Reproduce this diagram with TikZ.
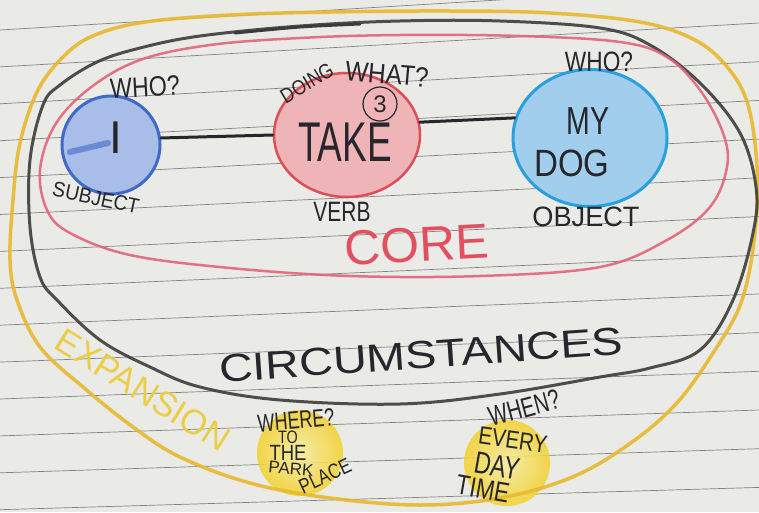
\documentclass[tikz,border=0pt]{standalone}
\usepackage{fontspec}
\setmainfont{Liberation Sans}
\usetikzlibrary{shapes.geometric}
\definecolor{paper}{RGB}{234,234,231}
\definecolor{rule}{RGB}{130,130,130}
\definecolor{ink}{RGB}{38,38,44}
\definecolor{yline}{RGB}{232,185,45}
\definecolor{ytext}{RGB}{236,205,70}
\definecolor{yfill}{RGB}{242,210,55}
\definecolor{yfillin}{RGB}{248,236,160}
\definecolor{kline}{RGB}{60,60,60}
\definecolor{rline}{RGB}{226,100,120}
\definecolor{rtext}{RGB}{225,80,95}
\definecolor{rfill}{RGB}{238,180,184}
\definecolor{redge}{RGB}{222,78,88}
\definecolor{bedge}{RGB}{65,105,200}
\definecolor{bfill}{RGB}{168,190,232}
\definecolor{cedge}{RGB}{40,160,222}
\definecolor{cfill}{RGB}{162,206,238}
\newcommand\hwt[3]{\fontsize{#1}{#1}\selectfont\scalebox{#2}[1]{#3}}
\begin{document}
\begin{tikzpicture}[x=1pt,y=-1pt,
  hw/.style={inner sep=0pt, text=ink, anchor=center},
  ruleline/.style={draw=rule, line width=0.7pt},
  pencil/.style={line width=3pt, line cap=round, line join=round, opacity=0.9},
  conn/.style={draw=ink, line width=3pt, line cap=round},
  blob/.style={circle, inner sep=0pt, minimum size=86pt, shading=radial, inner color=yfillin, outer color=yfill, opacity=0.9}]
\useasboundingbox (0,0) rectangle (759,512);
\clip (0,0) rectangle (759,512);
\fill[paper] (0,0) rectangle (759,512);
% ruled paper
\foreach \l/\r in {30/-15.7, 66.9/23, 103.8/61.7, 140.7/100.4, 177.6/139.1, 214.5/177.8, 251.4/216.5, 288.3/255.2, 325.2/293.9, 362.1/332.6, 399/371.3, 435.9/410, 472.8/448.7, 509.7/487.4, 546.6/526.1}
  \draw[ruleline] (0,\l) -- (759,\r);
% yellow blobs
\node[blob] (where) at (300,453) {};
\node[blob] (when) at (507,463) {};
% expansion (yellow)
\draw[pencil, draw=yline, line width=3.5pt] plot[smooth cycle, tension=0.6] coordinates {
 (20,143) (13,200) (10,260) (17,300) (40,347) (83,387) (133,427) (180,457) (250,483) (330,498) (420,505) (500,498) (570,478) (625,447) (675,405) (715,350) (742,300) (755,233) (757,167) (748,105) (728,68) (695,40) (640,22) (550,13) (450,11) (330,12) (230,15) (145,22) (95,35) (65,55) (38,90)};
% circumstances (black)
\draw[pencil, draw=kline] plot[smooth cycle, tension=0.6] coordinates {
 (30,160) (30,227) (40,277) (57,300) (100,340) (150,367) (200,387) (280,400) (400,404) (500,394) (600,377) (650,368) (700,350) (733,300) (753,233) (756,187) (740,133) (700,83) (650,45) (600,28) (500,21) (400,21) (300,26) (200,36) (140,48) (97,62) (60,85) (43,105)};
\draw[line width=3pt, draw=kline, line cap=round] plot[smooth] coordinates {(235,33) (300,27) (360,24)};
% core (red)
\draw[pencil, draw=rline, line width=2.5pt] plot[smooth cycle, tension=0.6] coordinates {
 (40,170) (47,210) (70,233) (130,255) (230,268) (350,276) (480,276) (600,267) (667,240) (710,207) (727,167) (723,133) (700,90) (667,57) (620,42) (520,36) (400,35) (300,38) (210,45) (140,60) (90,88) (55,125)};
% core circles
\node[circle, minimum size=98pt, inner sep=0pt, draw=bedge, line width=3pt, fill=bfill] (i) at (111,145) {};
\draw[draw=bedge, line width=6pt, line cap=round, opacity=0.6] (70,152) -- (108,143);
\node[ellipse, minimum width=146pt, minimum height=124pt, inner sep=0pt, draw=redge, line width=2.5pt, fill=rfill] (take) at (347,135) {};
\node[ellipse, minimum width=154pt, minimum height=137pt, inner sep=0pt, draw=cedge, line width=3pt, fill=cfill] (dog) at (590,138) {};
% connectors
\draw[conn] (i.8) -- (take.180);
\draw[conn] (take.10) -- (dog.165);
% texts
\node[hw] (tI) at (116,138) {\hwt{46}{1.0}{I}};
\node[hw, rotate=3] (who1) at (145,87) {\hwt{28}{0.83}{WHO?}};
\node[hw, rotate=-12] (subj) at (96,198) {\hwt{21}{0.92}{SUBJECT}};
\node[hw, rotate=31] (doing) at (307,83) {\hwt{21}{0.84}{DOING}};
\node[hw, rotate=-5] (what) at (387,74) {\hwt{28}{0.87}{WHAT?}};
\node[circle, draw=ink, line width=1.2pt, minimum size=34pt, inner sep=0pt, text=ink] (three) at (380,104) {\fontsize{24}{24}\selectfont 3};
\node[hw] (tTake) at (345,142) {\hwt{56}{0.66}{TAKE}};
\node[hw] (verb) at (342,212) {\hwt{28}{0.75}{VERB}};
\node[hw] (who2) at (599,62) {\hwt{28}{0.81}{WHO?}};
\node[hw] (my) at (588,121) {\hwt{39}{0.73}{MY}};
\node[hw] (dogt) at (572,163) {\hwt{38}{0.87}{DOG}};
\node[hw] (obj) at (586,217) {\hwt{28}{0.97}{OBJECT}};
\node[hw, text=rtext, rotate=3] (core) at (417,245) {\hwt{49}{1.02}{CORE}};
\node[hw, rotate=4] (circ) at (421,355) {\hwt{39}{1.2}{CIRCUMSTANCES}};
\node[hw, text=ytext, rotate=-32] (exp) at (143,390) {\hwt{35}{0.98}{EXPANSION}};
% where
\node[hw, rotate=5] (whereq) at (296,420) {\hwt{25}{0.72}{WHERE?}};
\node[hw] (to) at (288,437) {\hwt{18}{0.8}{TO}};
\node[hw] (the) at (288,453) {\hwt{22}{0.84}{THE}};
\node[hw, rotate=-5] (park) at (291,469) {\hwt{17}{1.0}{PARK}};
\node[hw, rotate=25] (place) at (325,476) {\hwt{21}{0.8}{PLACE}};
% when
\node[hw, rotate=15] (whenq) at (524,408) {\hwt{28}{0.72}{WHEN?}};
\node[hw, rotate=-8] (every) at (513,440) {\hwt{25}{0.82}{EVERY}};
\node[hw, rotate=-10] (day) at (497,466) {\hwt{31}{0.74}{DAY}};
\node[hw, rotate=-10] (time) at (483,489) {\hwt{28}{0.8}{TIME}};
\end{tikzpicture}
\end{document}
